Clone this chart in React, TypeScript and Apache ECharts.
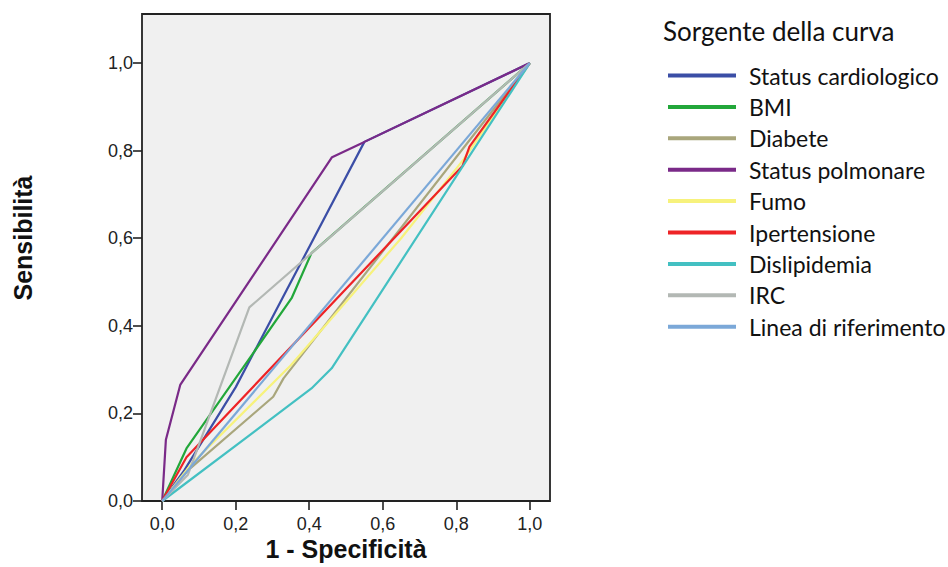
import React, { useEffect, useRef } from "react";
import * as echarts from "echarts";

// ROC curves: [1 - specificity, sensitivity] pairs per predictor
const statusCardiologico: [number, number][] = [[0, 0], [0.06, 0.07], [0.2, 0.26], [0.55, 0.82], [1, 1]];
const bmi: [number, number][] = [[0, 0], [0.066, 0.12], [0.352, 0.463], [0.406, 0.566], [1, 1]];
const diabete: [number, number][] = [[0, 0], [0.07, 0.07], [0.302, 0.238], [0.33, 0.28], [1, 1]];
const statusPolmonare: [number, number][] = [[0, 0], [0.01, 0.14], [0.049, 0.265], [0.462, 0.785], [0.55, 0.82], [1, 1]];
const fumo: [number, number][] = [[0, 0], [0.08, 0.085], [0.35, 0.31], [0.65, 0.6], [0.82, 0.78], [1, 1]];
const ipertensione: [number, number][] = [[0, 0], [0.066, 0.1], [0.817, 0.765], [0.836, 0.809], [1, 1]];
const dislipidemia: [number, number][] = [[0, 0], [0.406, 0.257], [0.461, 0.303], [1, 1]];
const irc: [number, number][] = [[0, 0], [0.07, 0.06], [0.237, 0.442], [1, 1]];
const riferimento: [number, number][] = [[0, 0], [1, 1]];

const seriesNames = [
  "Status cardiologico",
  "BMI",
  "Diabete",
  "Status polmonare",
  "Fumo",
  "Ipertensione",
  "Dislipidemia",
  "IRC",
  "Linea di riferimento",
];
const seriesData = [statusCardiologico, bmi, diabete, statusPolmonare, fumo, ipertensione, dislipidemia, irc, riferimento];
const seriesColors = ["#3b4ea6", "#22a73a", "#a9a67c", "#7a2a88", "#f7f27c", "#ee2326", "#43c0c2", "#b3b8b4", "#7ba8d8"];

const tickValues = [0, 0.2, 0.4, 0.6, 0.8, 1.0];
const fmt = (v: number) => v.toFixed(1).replace(".", ",");

export default function App() {
  const ref = useRef<HTMLDivElement>(null);

  useEffect(() => {
    if (!ref.current) return;
    const chart = echarts.init(ref.current, null, { renderer: "svg" });
    const tickFont = { fontFamily: "Liberation Sans, Arial", fontSize: 18, color: "#222" };
    const tickStyle = { show: true, length: 9, customValues: tickValues, lineStyle: { color: "#222", width: 1.6 } };

    chart.setOption({
      animation: false,
      backgroundColor: "#ffffff",
      grid: {
        left: 142,
        right: 398,
        top: 14,
        bottom: 66,
        show: true,
        backgroundColor: "#f0f0f0",
        borderColor: "#222",
        borderWidth: 1.8,
      },
      xAxis: {
        type: "value",
        min: -0.055,
        max: 1.055,
        axisLine: { show: false, onZero: false },
        splitLine: { show: false },
        axisTick: tickStyle,
        axisLabel: { customValues: tickValues, formatter: fmt, margin: 14, ...tickFont },
      },
      yAxis: {
        type: "value",
        min: 0,
        max: 1.112,
        axisLine: { show: false, onZero: false },
        splitLine: { show: false },
        axisTick: tickStyle,
        axisLabel: { customValues: tickValues, formatter: fmt, margin: 9, ...tickFont },
      },
      legend: {
        orient: "vertical",
        left: 663,
        top: 59,
        icon: "rect",
        itemWidth: 68,
        itemHeight: 4,
        itemGap: 8.4,
        data: seriesNames,
        selectedMode: false,
        textStyle: {
          fontFamily: "Lato, 'Open Sans', sans-serif",
          fontSize: 23,
          color: "#111",
          padding: [0, 0, 0, 8],
          lineHeight: 22,
        },
      },
      graphic: [
        {
          type: "text",
          x: 663,
          y: 31,
          style: {
            text: "Sorgente della curva",
            font: "26px Lato, 'Open Sans', sans-serif",
            fill: "#111",
            textAlign: "left",
            textVerticalAlign: "middle",
          },
        },
        {
          type: "text",
          x: 346,
          y: 549,
          style: {
            text: "1 - Specificità",
            font: "bold 25px 'Liberation Sans', Arial",
            fill: "#111",
            textAlign: "center",
            textVerticalAlign: "middle",
          },
        },
        {
          type: "text",
          x: 23,
          y: 238,
          rotation: Math.PI / 2,
          style: {
            text: "Sensibilità",
            font: "bold 25px 'Liberation Sans', Arial",
            fill: "#111",
            textAlign: "center",
            textVerticalAlign: "middle",
          },
        },
      ],
      series: seriesNames.map((name, i) => ({
        name,
        type: "line",
        data: seriesData[i],
        showSymbol: false,
        symbol: "none",
        color: seriesColors[i],
        lineStyle: { width: 2.2, color: seriesColors[i] },
        emphasis: { disabled: true },
      })),
    });

    return () => chart.dispose();
  }, []);

  return <div ref={ref} style={{ position: "fixed", left: 0, top: 0, width: 948, height: 567 }} />;
}
